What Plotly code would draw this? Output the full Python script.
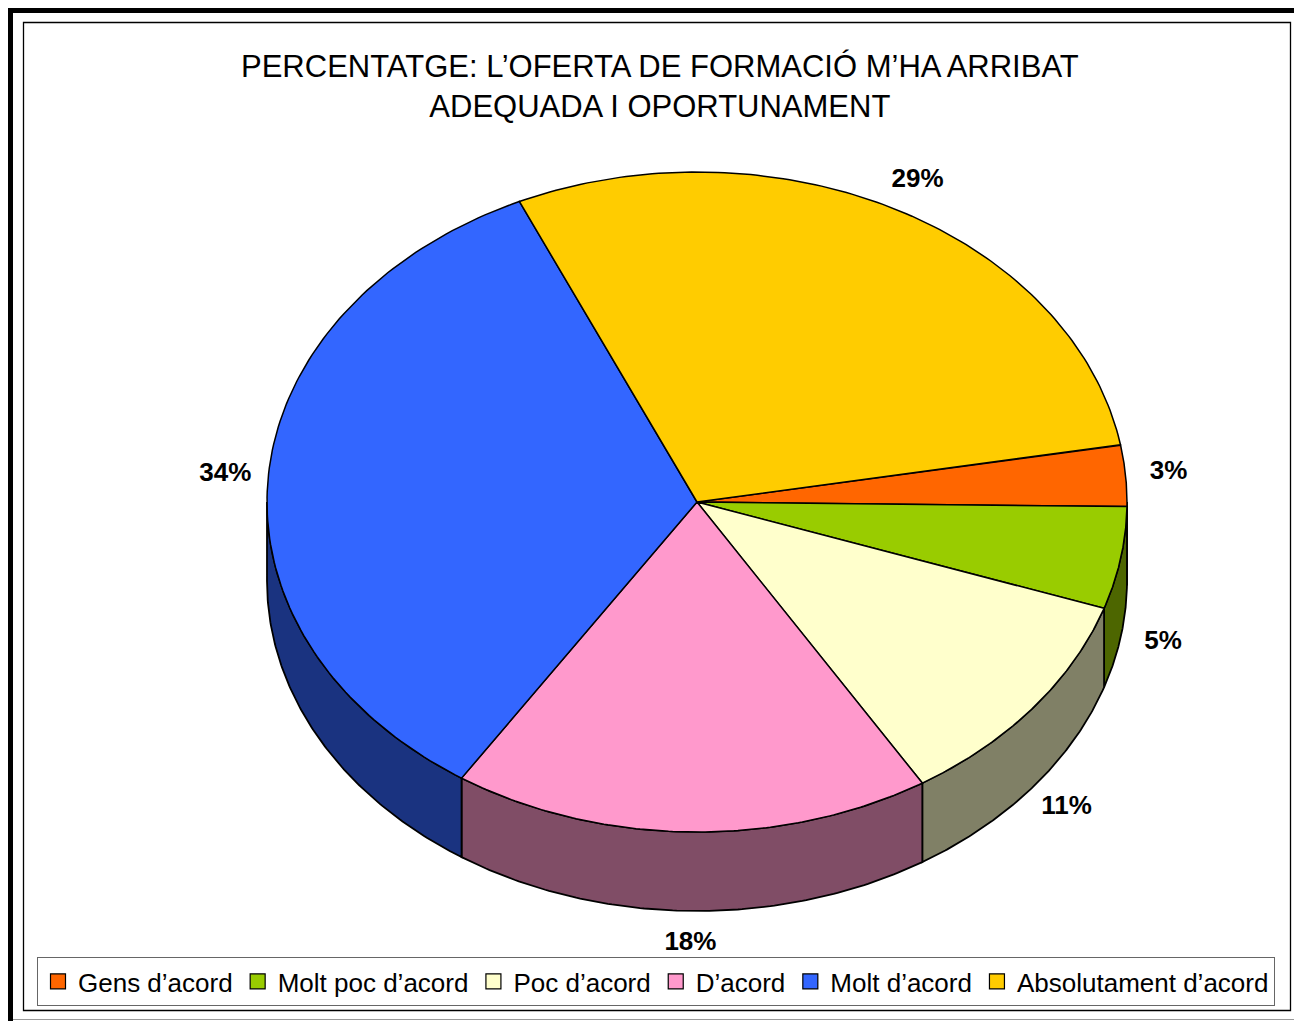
import numpy as np
import plotly.graph_objects as go

# ---- data ----
categories = ["Gens d’acord", "Molt poc d’acord", "Poc d’acord", "D’acord",
              "Molt d’acord", "Absolutament d’acord"]
values = [3, 5, 11, 18, 34, 29]
top_colors = ["#FF6600", "#99CC00", "#FFFFCC", "#FF99CC", "#3366FF", "#FFCC00"]
side_colors = ["#803300", "#4D6600", "#808066", "#804D66", "#1A3380", "#806600"]
title_text = "PERCENTATGE: L’OFERTA DE FORMACIÓ M’HA ARRIBAT<br>ADEQUADA I OPORTUNAMENT"

# ---- geometry of the 3-D pie (pixel-based axes) ----
W, H = 1294, 1021
CX, CY, RX, RY, DEPTH = 697, 502, 430, 330, 79
START = 10.0          # degrees, counter-clockwise from 3 o'clock; slices run clockwise
FONT = "Liberation Sans, Arial, sans-serif"


def arc(a1, a2, dy=0.0, n=120):
    th = np.radians(np.linspace(a1, a2, n))
    return CX + RX * np.cos(th), CY - RY * np.sin(th) + dy


total = float(sum(values))
cum = np.concatenate([[0.0], np.cumsum(values)])
a_start = START - 360.0 * cum[:-1] / total
a_end = START - 360.0 * cum[1:] / total

fig = go.Figure()

# side walls (front half only)
for i in range(len(values)):
    hi = min(a_start[i], 0.0)
    lo = max(a_end[i], -180.0)
    if lo >= hi:
        continue
    tx, ty = arc(hi, lo)
    bx, by = arc(lo, hi, DEPTH)
    xs = np.concatenate([tx, bx, tx[:1]])
    ys = np.concatenate([ty, by, ty[:1]])
    fig.add_trace(go.Scatter(x=xs, y=ys, mode="lines", fill="toself",
                             fillcolor=side_colors[i],
                             line=dict(color="black", width=1.8),
                             showlegend=False, hoverinfo="skip"))

# top faces
for i in range(len(values)):
    ax, ay = arc(a_start[i], a_end[i])
    xs = np.concatenate([[CX], ax, [CX]])
    ys = np.concatenate([[CY], ay, [CY]])
    fig.add_trace(go.Scatter(x=xs, y=ys, mode="lines", fill="toself",
                             fillcolor=top_colors[i],
                             line=dict(color="black", width=1.5),
                             showlegend=False, hoverinfo="skip"))

# percentage labels
mid = np.radians((a_start + a_end) / 2.0)
lx = CX + RX * 1.1 * np.cos(mid)
ly = CY - RY * 1.1 * np.sin(mid) + np.where(np.sin(mid) < 0, DEPTH, 0)
labels = [f"{round(100 * v / total)}%" for v in values]
fig.add_trace(go.Scatter(x=lx, y=ly, mode="text", text=labels,
                         textfont=dict(family=FONT, size=26, color="black",
                                       weight="bold"),
                         showlegend=False, hoverinfo="skip"))

# legend entries
for c, col in zip(categories, top_colors):
    fig.add_trace(go.Scatter(x=[None], y=[None], mode="markers", name=c,
                             marker=dict(symbol="square", size=15, color=col,
                                         line=dict(color="black", width=1.2))))

fig.add_annotation(x=660 / W, y=1 - 86 / H, xref="paper", yref="paper",
                   text=title_text, showarrow=False, xanchor="center",
                   yanchor="middle", align="center",
                   font=dict(family=FONT, size=31, color="black"))

shapes = [
    # outer thick frame
    dict(type="line", xref="paper", yref="paper", x0=8 / W, x1=1, y0=1 - 10.5 / H, y1=1 - 10.5 / H,
         line=dict(color="black", width=5)),
    dict(type="line", xref="paper", yref="paper", x0=10.5 / W, x1=10.5 / W, y0=0, y1=1 - 8 / H,
         line=dict(color="black", width=5)),
    dict(type="line", xref="paper", yref="paper", x0=13 / W, x1=1, y0=1 - 1019.5 / H, y1=1 - 1019.5 / H,
         line=dict(color="#999999", width=1)),
    # inner thin frame
    dict(type="rect", xref="paper", yref="paper", x0=23.5 / W, x1=1290.5 / W,
         y0=1 - 1010.5 / H, y1=1 - 22.5 / H, line=dict(color="black", width=1.3)),
]

fig.update_layout(
    width=W, height=H, autosize=False,
    margin=dict(l=0, r=0, t=0, b=0, pad=0),
    paper_bgcolor="white", plot_bgcolor="white",
    xaxis=dict(range=[0, W], visible=False, fixedrange=True),
    yaxis=dict(range=[H, 0], visible=False, fixedrange=True),
    showlegend=True,
    legend=dict(orientation="h", x=37 / W, y=1 - 957 / H, xanchor="left", yanchor="top",
                bgcolor="white", bordercolor="#666666", borderwidth=1,
                font=dict(family=FONT, size=26, color="black"),
                itemwidth=30, tracegroupgap=0),
    shapes=shapes,
)

fig.write_html("out.html", config={"displayModeBar": False},
               post_script="document.body.style.margin='0';document.body.style.overflow='hidden';")
